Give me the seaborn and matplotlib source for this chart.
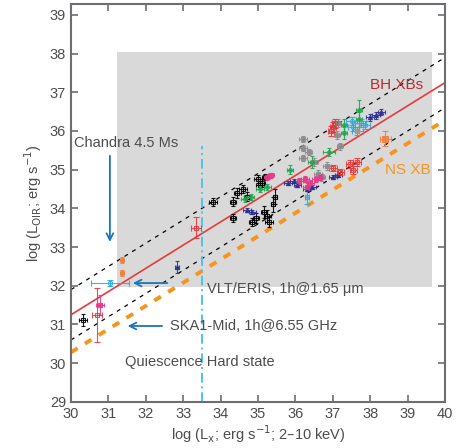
import matplotlib
matplotlib.use("Agg")
import matplotlib.pyplot as plt
import seaborn as sns
import numpy as np
import pandas as pd

# ---------------- data ----------------
# relations: log L_OIR = slope * log Lx + intercept
bh_slope, bh_intercept = 0.60, 13.25
band_offset = 0.65          # black dashed scatter band
ns_offset = -0.97           # NS XB relation
x_relation = [30.0, 40.0]

black_x = [30.32, 33.80, 34.33, 34.33, 34.45, 34.60, 34.70, 34.85, 34.95, 35.05, 35.15, 35.25, 35.30, 35.40, 35.45, 35.00, 35.10, 35.20]
black_y = [31.12, 34.17, 34.17, 33.75, 34.40, 34.50, 34.30, 33.65, 33.75, 34.60, 33.90, 33.80, 33.65, 34.10, 34.30, 34.75, 34.65, 34.80]
black_xe = [0.10, 0.10, 0.08, 0.08, 0.10, 0.10, 0.08, 0.10, 0.08, 0.10, 0.08, 0.10, 0.10, 0.06, 0.06, 0.10, 0.10, 0.10]
black_ye = [0.15, 0.10, 0.12, 0.10, 0.12, 0.10, 0.12, 0.10, 0.12, 0.10, 0.15, 0.15, 0.12, 0.20, 0.20, 0.10, 0.10, 0.08]

green_x = [34.65, 34.80, 35.05, 35.25, 35.85, 36.45, 36.90, 37.30, 37.30, 37.70, 37.70]
green_y = [34.25, 34.30, 34.50, 34.55, 35.00, 35.20, 35.45, 35.95, 36.15, 36.30, 36.55]
green_xe = [0.10, 0.10, 0.10, 0.10, 0.08, 0.12, 0.15, 0.08, 0.08, 0.08, 0.08]
green_ye = [0.08, 0.08, 0.08, 0.08, 0.12, 0.15, 0.10, 0.15, 0.15, 0.20, 0.25]

navy_x = [32.83, 34.70, 34.85, 35.80, 35.95, 36.05, 36.30, 36.45, 37.00, 37.15, 38.00, 38.15, 38.30]
navy_y = [32.49, 33.95, 33.90, 34.65, 34.70, 34.60, 34.50, 34.55, 34.80, 34.85, 36.35, 36.40, 36.50]
navy_xe = [0.05, 0.10, 0.10, 0.10, 0.10, 0.10, 0.10, 0.10, 0.10, 0.10, 0.10, 0.10, 0.10]
navy_ye = [0.15, 0.05, 0.05, 0.05, 0.05, 0.05, 0.05, 0.05, 0.05, 0.05, 0.08, 0.08, 0.08]

pink_x = [30.78, 35.25, 35.35, 36.10, 36.25, 36.40, 36.55, 36.65, 36.30]
pink_y = [31.50, 34.80, 34.85, 34.70, 34.75, 34.65, 34.75, 34.80, 34.55]
pink_xe = [0.10, 0.08, 0.08, 0.10, 0.10, 0.10, 0.10, 0.10, 0.10]
pink_ye = [0.25, 0.06, 0.06, 0.08, 0.08, 0.08, 0.08, 0.08, 0.10]

gray_x = [36.20, 36.20, 36.20, 36.35, 36.50, 36.60, 36.70, 36.85, 37.10, 37.15, 37.20]
gray_y = [35.30, 35.55, 35.80, 35.45, 35.20, 34.90, 34.80, 35.10, 35.90, 36.20, 35.60]
gray_xe = [0.10, 0.10, 0.10, 0.10, 0.10, 0.10, 0.10, 0.10, 0.08, 0.08, 0.08]
gray_ye = [0.08, 0.08, 0.08, 0.08, 0.10, 0.10, 0.10, 0.10, 0.10, 0.10, 0.10]

cyan_x = [31.04, 36.30, 37.50, 37.55, 37.65, 37.75, 37.85]
cyan_y = [32.07, 34.30, 36.25, 36.10, 36.00, 36.20, 36.15]
cyan_xe = [0.50, 0.05, 0.15, 0.15, 0.15, 0.15, 0.15]
cyan_ye = [0.08, 0.20, 0.10, 0.10, 0.10, 0.10, 0.10]

red_x = [30.70, 33.34, 36.95, 37.05, 37.00, 37.45, 37.55, 37.65, 37.00, 37.20]
red_y = [31.25, 33.50, 36.00, 36.20, 36.10, 35.15, 35.00, 35.20, 35.05, 34.95]
red_xe = [0.14, 0.13, 0.08, 0.08, 0.08, 0.10, 0.10, 0.10, 0.10, 0.10]
red_ye = [0.70, 0.27, 0.12, 0.12, 0.12, 0.10, 0.10, 0.10, 0.08, 0.08]

orange_x = [31.36, 31.36, 37.65, 38.40]
orange_y = [32.67, 32.33, 36.00, 35.80]
orange_xe = [0.05, 0.05, 0.05, 0.15]
orange_ye = [0.08, 0.08, 0.05, 0.20]

x_ticks = list(range(30, 41))
y_ticks = list(range(29, 40))

# ---------------- style ----------------
sns.set_theme(style="ticks")
plt.rcParams['font.family'] = ['Liberation Sans', 'DejaVu Sans']
txt = '#4d4d4d'
spine_c = '#6d6e71'

fig = plt.figure(figsize=(4.67, 4.48), dpi=100)
ax = fig.add_axes([0.152, 0.103, 0.801, 0.888])

ax.set_xlim(30, 40)
ax.set_ylim(29, 39.28)

# grey sensitivity box
ax.add_patch(plt.Rectangle((31.23, 31.97), 39.65 - 31.23, 38.05 - 31.97,
                           facecolor='#d9d9d9', edgecolor='none', zorder=0))

xr = np.array(x_relation)
bh = bh_slope * xr + bh_intercept
rel = pd.DataFrame({'x': xr, 'bh': bh, 'up': bh + band_offset,
                    'lo': bh - band_offset, 'ns': bh + ns_offset})
sns.lineplot(data=rel, x='x', y='bh', ax=ax, color='#e8393d', lw=1.2, zorder=2)
for col in ['up', 'lo']:
    ax.plot(rel['x'], rel[col], color='black', lw=0.9, dashes=(3.2, 4), zorder=2)
ax.plot(rel['x'], rel['ns'], color='#f7941d', lw=2.8, dashes=(2.0, 2.2), zorder=2)

# cyan dash-dot Chandra-limit line
ax.plot([33.5, 33.5], [29, 35.6], color='#4fc3e8', lw=1.4, dashes=(5, 2, 1, 2), zorder=2)

def eb(xs, ys, xe, ye, color, marker='s', mfc='none', ms=3, alpha=0.9, capsize=1.5):
    ax.errorbar(xs, ys, xerr=xe, yerr=ye, fmt=marker, color=color, mfc=mfc,
                mec=color, ms=ms, elinewidth=0.8, capsize=capsize, mew=0.8,
                alpha=alpha, zorder=3)

eb(black_x, black_y, black_xe, black_ye, 'black')
eb(gray_x, gray_y, gray_xe, gray_ye, '#8c8c8c', mfc='#8c8c8c')
eb(green_x, green_y, green_xe, green_ye, '#1fa84f', marker='P', mfc='#1fa84f')
eb(navy_x, navy_y, navy_xe, navy_ye, '#2e3192', marker='^', mfc='#2e3192')
eb(pink_x, pink_y, pink_xe, pink_ye, '#e8388a', marker='s', mfc='#e8388a')
eb(cyan_x, cyan_y, cyan_xe, cyan_ye, '#29abe2', marker='o', mfc='none', capsize=2.5)
eb(red_x, red_y, red_xe, red_ye, '#e8393d', marker='s', mfc='none', capsize=2.5)
eb(orange_x[:2], orange_y[:2], orange_xe[:2], orange_ye[:2], '#f07f3c', marker='X', mfc='#f07f3c')
eb(orange_x[2:3], orange_y[2:3], orange_xe[2:3], orange_ye[2:3], '#f07f3c', marker='o', mfc='none')
eb(orange_x[3:], orange_y[3:], orange_xe[3:], orange_ye[3:], '#f07f3c', marker='s', mfc='#f07f3c', ms=4, capsize=2.5)

# annotations
fs = 10.5
arrow_c = '#1b75bc'
ax.text(30.08, 35.69, 'Chandra 4.5 Ms', color=txt, fontsize=fs, va='center', ha='left')
ax.annotate('', xy=(31.04, 33.06), xytext=(31.04, 35.43),
            arrowprops=dict(arrowstyle='->', color=arrow_c, lw=1.3))
ax.annotate('', xy=(31.58, 32.07), xytext=(32.65, 32.07),
            arrowprops=dict(arrowstyle='->', color=arrow_c, lw=1.3))
ax.text(33.64, 31.92, 'VLT/ERIS, 1h@1.65 μm', color=txt, fontsize=fs, va='center', ha='left')
ax.annotate('', xy=(31.44, 30.96), xytext=(32.51, 30.96),
            arrowprops=dict(arrowstyle='->', color=arrow_c, lw=1.3))
ax.text(32.65, 30.96, 'SKA1-Mid, 1h@6.55 GHz', color=txt, fontsize=fs, va='center', ha='left')
ax.text(31.44, 30.03, 'Quiescence Hard state', color=txt, fontsize=fs, va='center', ha='left')
ax.text(38.0, 37.19, 'BH XBs', color='#c1272d', fontsize=11, va='center', ha='left')
ax.text(38.4, 35.0, 'NS XB', color='#f7941d', fontsize=11, va='center', ha='left')

ax.set_xticks(x_ticks)
ax.set_yticks(y_ticks)
ax.tick_params(axis='both', which='major', direction='in', length=5, width=1.2,
               color=spine_c, labelcolor=txt, labelsize=fs, top=True, right=True,
               labeltop=False, labelright=False)
for s in ax.spines.values():
    s.set_color(spine_c)
    s.set_linewidth(1.5)
    s.set_visible(True)

ax.set_xlabel(r'log (L$_{\rm x}$; erg s$^{-1}$; 2–10 keV)', color=txt, fontsize=fs, labelpad=2)
ax.set_ylabel(r'log (L$_{\rm OIR}$; erg s$^{-1}$)', color=txt, fontsize=fs, labelpad=4)

fig.savefig('out.png', dpi=100)
